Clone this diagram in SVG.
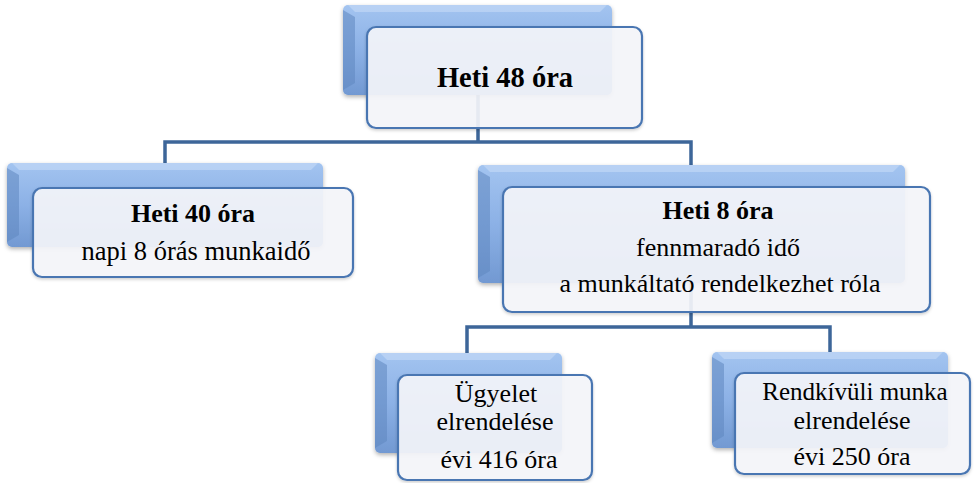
<svg xmlns="http://www.w3.org/2000/svg" width="975" height="483" viewBox="0 0 975 483">
<defs>
<linearGradient id="bg" x1="0" y1="0" x2="0" y2="1">
<stop offset="0" stop-color="#A3C4F0"/>
<stop offset="0.5" stop-color="#8CB1E6"/>
<stop offset="1" stop-color="#7299D2"/>
</linearGradient>
<filter id="sh" x="-10%" y="-10%" width="120%" height="130%">
<feDropShadow dx="0" dy="2" stdDeviation="2" flood-color="#000" flood-opacity="0.3"/>
</filter>
<filter id="sh2" x="-10%" y="-10%" width="120%" height="130%">
<feDropShadow dx="0" dy="1.5" stdDeviation="1.5" flood-color="#000" flood-opacity="0.2"/>
</filter>
<style>
.back{fill:url(#bg);filter:url(#sh)}
.bev-l{fill:#5F86C0;opacity:0.55}
.bev-t{fill:#C6DAF6;opacity:0.6}
.front{fill:#F5F6FB;fill-opacity:0.91;stroke:#4A76B2;stroke-width:2.2;filter:url(#sh2)}
.conn{fill:none;stroke:#3D6699;stroke-width:3.5}
text{font-family:"Liberation Serif","Times New Roman",serif;font-size:26px;fill:#000;text-anchor:middle}
.b{font-weight:bold}
</style>
</defs>
<rect width="975" height="483" fill="#fff"/>
<g id="connectors">
<path class="conn" d="M478,95 V142 M165,163 V142 H691 V165"/>
<path class="conn" d="M691,283 V327 M467,353 V327 H830 V352"/>
</g>
<g id="n-heti48" font-family="Liberation Serif, Times New Roman, serif">
<rect class="back" x="343" y="5" width="269" height="90" rx="5"/>
<polygon class="bev-l" points="343,10 355,17 355,83 343,90"/>
<polygon class="bev-t" points="348,5 607,5 600,12 355,12"/>
<rect class="front" x="367" y="27" width="275" height="101" rx="9"/>
<text class="b" x="505" y="87" style="font-size:28.5px">Heti 48 óra</text>
</g>
<g id="n-heti40" font-family="Liberation Serif, Times New Roman, serif">
<rect class="back" x="7" y="163" width="316" height="84" rx="5"/>
<polygon class="bev-l" points="7,168 19,175 19,235 7,242"/>
<polygon class="bev-t" points="12,163 318,163 311,170 19,170"/>
<rect class="front" x="33" y="188" width="320" height="89" rx="9"/>
<text class="b" x="193" y="222">Heti 40 óra</text>
<text x="196" y="260" style="font-size:26.5px">napi 8 órás munkaidő</text>
</g>
<g id="n-heti8" font-family="Liberation Serif, Times New Roman, serif">
<rect class="back" x="478" y="165" width="427" height="118" rx="5"/>
<polygon class="bev-l" points="478,170 490,177 490,271 478,278"/>
<polygon class="bev-t" points="483,165 900,165 893,172 490,172"/>
<rect class="front" x="503" y="187" width="427" height="125" rx="9"/>
<text class="b" x="718" y="219">Heti 8 óra</text>
<text x="718" y="256">fennmaradó idő</text>
<text x="720" y="292">a munkáltató rendelkezhet róla</text>
</g>
<g id="n-ugyelet" font-family="Liberation Serif, Times New Roman, serif">
<rect class="back" x="375" y="353" width="187" height="100" rx="5"/>
<polygon class="bev-l" points="375,358 387,365 387,441 375,448"/>
<polygon class="bev-t" points="380,353 557,353 550,360 387,360"/>
<rect class="front" x="398" y="375" width="194" height="105" rx="9"/>
<text x="496" y="402">Ügyelet</text>
<text x="495" y="430">elrendelése</text>
<text x="499" y="468">évi 416 óra</text>
</g>
<g id="n-rendkivuli" font-family="Liberation Serif, Times New Roman, serif">
<rect class="back" x="712" y="352" width="236" height="96" rx="5"/>
<polygon class="bev-l" points="712,357 724,364 724,436 712,443"/>
<polygon class="bev-t" points="717,352 943,352 936,359 724,359"/>
<rect class="front" x="735" y="373" width="235" height="101" rx="9"/>
<text x="855" y="400" style="font-size:25px">Rendkívüli munka</text>
<text x="852" y="429">elrendelése</text>
<text x="852" y="465">évi 250 óra</text>
</g>
</svg>
